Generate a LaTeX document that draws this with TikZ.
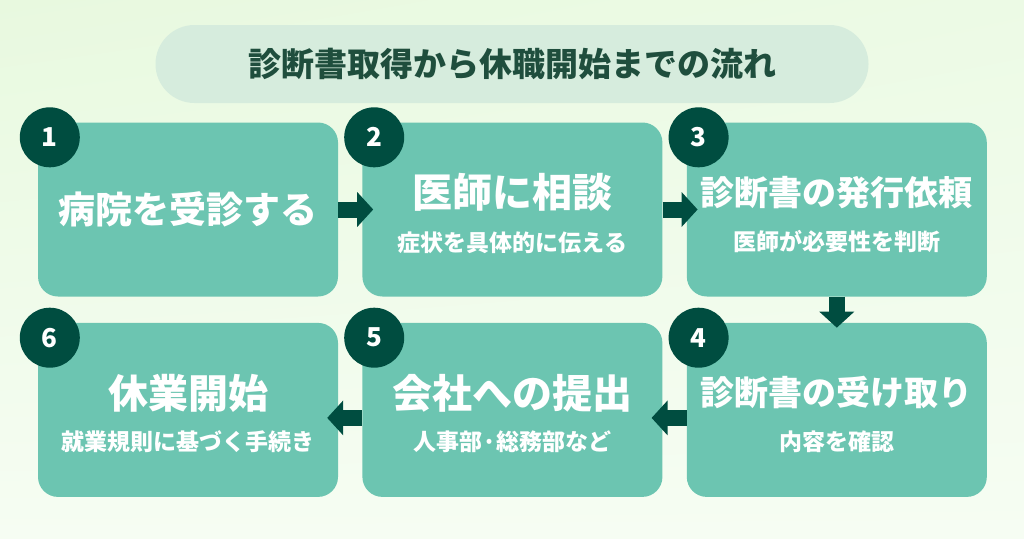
\documentclass[tikz,border=0pt]{standalone}
\usepackage{fontspec}
\setmainfont{Noto Sans CJK JP}
\usetikzlibrary{positioning, arrows.meta, shadings}
\definecolor{bgA}{HTML}{E8F9DF}
\definecolor{bgB}{HTML}{F6FDF3}
\definecolor{pillfill}{HTML}{D6ECDD}
\definecolor{titletext}{HTML}{1F4E3D}
\definecolor{boxfill}{HTML}{6CC5B1}
\definecolor{darkteal}{HTML}{004D40}
\tikzset{x=1pt, y=1pt, node distance=24pt,
	titlepill/.style={fill=pillfill, rounded corners=39pt, minimum width=713pt, minimum height=78pt, text=titletext, font=\fontsize{33}{33}\selectfont\bfseries},
	stepbox/.style={fill=boxfill, rounded corners=20pt, minimum width=300pt, minimum height=174pt, inner sep=0pt},
	badge/.style={circle, fill=darkteal, minimum size=60pt, inner sep=0pt, text=white, font=\fontsize{26}{26}\selectfont\bfseries},
	maintext/.style={text=white, inner sep=0pt, font=\fontsize{40}{40}\selectfont\bfseries},
	subtext/.style={text=white, inner sep=0pt, font=\fontsize{23}{23}\selectfont\bfseries},
	flow/.style={draw=darkteal, line width=16pt, -{Triangle[length=16pt, width=34pt]}, shorten >=-11pt}}

\begin{document}
\begin{tikzpicture}
	\shade[upper left=bgA, upper right=bgA!70!bgB, lower left=bgB, lower right=bgB] (0,0) rectangle (1024,-538);
	\node[titlepill] (title) at (512,-64) {診断書取得から休職開始までの流れ};

	\node[stepbox] (s1) at (188,-209.5) {};
	\node[stepbox, right=of s1] (s2) {};
	\node[stepbox, right=of s2] (s3) {};
	\node[stepbox, below=26pt of s3] (s4) {};
	\node[stepbox, left=of s4] (s5) {};
	\node[stepbox, left=of s5] (s6) {};

	\foreach \n in {1,...,6}
		\node[badge] (b\n) at ([xshift=12pt, yshift=-15pt]s\n.north west) {\n};

	\node[maintext, font=\fontsize{37}{37}\selectfont\bfseries] (m1) at (s1.center) {病院を受診する};
	\node[maintext] (m2) at ([yshift=17pt]s2.center) {医師に相談};
	\node[subtext] (u2) at ([yshift=-33pt]s2.center) {症状を具体的に伝える};
	\node[maintext, font=\fontsize{34}{34}\selectfont\bfseries] (m3) at ([yshift=17pt]s3.center) {診断書の発行依頼};
	\node[subtext] (u3) at ([yshift=-32pt]s3.center) {医師が必要性を判断};
	\node[maintext, font=\fontsize{34}{34}\selectfont\bfseries] (m4) at ([yshift=17pt]s4.center) {診断書の受け取り};
	\node[subtext] (u4) at ([yshift=-32pt]s4.center) {内容を確認};
	\node[maintext] (m5) at ([yshift=17pt]s5.center) {会社への提出};
	\node[subtext] (u5) at ([yshift=-32pt]s5.center) {人事部·総務部など};
	\node[maintext] (m6) at ([yshift=17pt]s6.center) {休業開始};
	\node[subtext] (u6) at ([yshift=-32pt]s6.center) {就業規則に基づく手続き};

	\draw[flow] (s1) -- (s2);
	\draw[flow] (s2) -- (s3);
	\draw[flow, shorten >=-5pt] (s3) -- (s4);
	\draw[flow] ([yshift=-8pt]s4.west) -- ([yshift=-8pt]s5.east);
	\draw[flow] ([yshift=-8pt]s5.west) -- ([yshift=-8pt]s6.east);
\end{tikzpicture}
\end{document}
